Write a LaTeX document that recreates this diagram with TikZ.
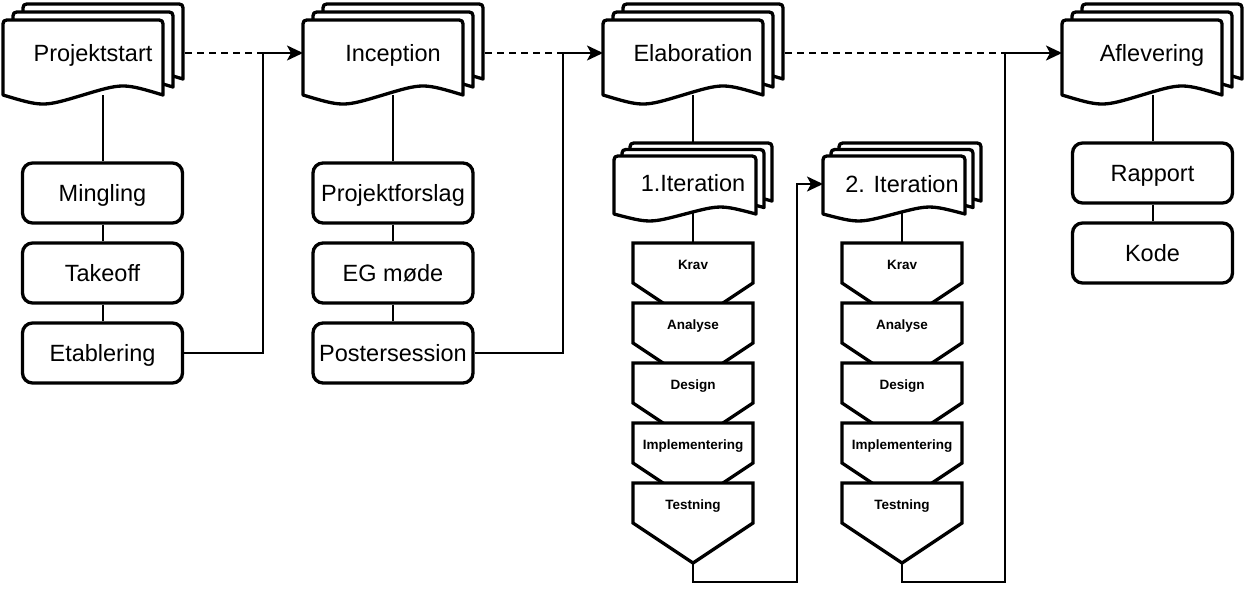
\documentclass[tikz,border=0pt]{standalone}
\usepackage{fontspec}
\setmainfont{Liberation Sans}
\usetikzlibrary{arrows.meta,calc}
\pgfdeclarelayer{bg}
\pgfsetlayers{bg,main}

\tikzset{
  docfill/.style={draw=black, fill=white, line width=3.3pt, line join=round},
  doctext/.style={font=\fontsize{23.5}{28}\selectfont, inner sep=0pt,
    text height=16.8pt, text depth=0pt},
  rbox/.style={draw, fill=white, line width=3.3pt, rounded corners=10pt,
    minimum width=160pt, minimum height=60pt, inner sep=0pt,
    text height=16.8pt, text depth=0pt,
    font=\fontsize{23.5}{28}\selectfont},
  pentfill/.style={draw, fill=white, line width=3.3pt, line join=miter},
  penttext/.style={minimum width=120pt, minimum height=44pt, inner sep=0pt,
    text height=9.7pt, text depth=0pt,
    font=\fontsize{13.5}{16}\selectfont\bfseries},
  conn/.style={line width=2pt},
  dconn/.style={line width=2pt, dash pattern=on 7pt off 5pt},
  arr/.style={-{Stealth[length=16pt,width=15pt,inset=4pt]}}
}

% one document sheet: left, top, width, height (to wave ends)
\newcommand\onedoc[4]{%
  \path[docfill] ({#1+#3},{#2+#4}) -- ({#1+#3},{#2+8})
    .. controls ({#1+#3},#2) .. ({#1+#3-8},#2) -- ({#1+8},#2)
    .. controls (#1,#2) .. (#1,{#2+8}) -- (#1,{#2+#4})
    .. controls ({#1+#3/4},{#2+#4+0.16*#4}) .. ({#1+#3/2},{#2+#4})
    .. controls ({#1+3*#3/4},{#2+#4-0.16*#4}) .. ({#1+#3},{#2+#4}) -- cycle;}

% multi-document: name, X, Y, w, h, dx, dy, text, text y (cap centre)
\newcommand\mdoc[9]{%
  \onedoc{#2+2*#6}{#3}{#4}{#5}
  \onedoc{#2+#6}{#3+#7}{#4}{#5}
  \onedoc{#2}{#3+2*#7}{#4}{#5}
  \node[doctext] (#1) at ({#2+#4/2+#6},#9) {#8};
  \coordinate (#1-w) at (#2,#9);
  \coordinate (#1-e) at ({#2+#4+2*#6+2},#9);
  \coordinate (#1-s) at ({#2+#4/2+#6},{#3+2*#7+#5});
  \coordinate (#1-n) at ({#2+#4/2+#6},#3);}

% off-page connector: name, cx, top, text
\newcommand\penta[4]{%
  \path[pentfill] ({#2-60},#3) -- ({#2+60},#3) -- ({#2+60},{#3+40})
    -- (#2,{#3+80}) -- ({#2-60},{#3+40}) -- cycle;
  \node[penttext] (#1) at (#2,{#3+21.5}) {#4};
  \coordinate (#1-tip) at (#2,{#3+80});}

\begin{document}
\begin{tikzpicture}[x=1pt,y=-1pt]
\useasboundingbox (0,0) rectangle (1244,600);

% multi-documents
\mdoc{ps}{3}{4}{160}{75}{10}{8}{Projektstart}{53}
\mdoc{ip}{303}{4}{160}{75}{10}{8}{Inception}{53}
\mdoc{el}{603}{4}{160}{75}{10}{8}{Elaboration}{53}
\mdoc{af}{1062}{4}{160}{75}{10}{8}{Aflevering}{53}
\mdoc{ita}{614}{143}{142}{58}{8}{6.5}{1.Iteration}{183.5}
\mdoc{itb}{823}{143}{142}{58}{8}{6.5}{2. Iteration}{184}

% rounded boxes
\node[rbox] (ming) at (102.5,193) {Mingling};
\node[rbox] (take) at (102.5,273) {Takeoff};
\node[rbox] (etab) at (102.5,353) {Etablering};
\node[rbox] (pfor) at (393,193) {Projektforslag};
\node[rbox] (egm)  at (393,273) {EG møde};
\node[rbox] (post) at (393,353) {Postersession};
\node[rbox] (rap)  at (1152.5,173) {Rapport};
\node[rbox] (kode) at (1152.5,253) {Kode};

% phases
\penta{kra}{693}{243}{Krav}
\penta{ana}{693}{303}{Analyse}
\penta{dea}{693}{363}{Design}
\penta{ima}{693}{423}{Implementering}
\penta{tea}{693}{483}{Testning}
\penta{krb}{902}{243}{Krav}
\penta{anb}{902}{303}{Analyse}
\penta{deb}{902}{363}{Design}
\penta{imb}{902}{423}{Implementering}
\penta{teb}{902}{483}{Testning}

% junction coordinates
\coordinate (ja) at (263,0);
\coordinate (jb) at (563,0);
\coordinate (jc) at (797,0);
\coordinate (jd) at (1005,0);
\coordinate (bot) at (0,582);

\begin{pgfonlayer}{bg}
  \draw[conn] (ps-s -| ming) -- (ming) -- (take) -- (etab);
  \draw[conn] (ip-s -| pfor) -- (pfor) -- (egm) -- (post);
  \draw[conn] (af-s -| rap) -- (rap) -- (kode);
  \draw[conn] (el-s) -- (ita-n) -- (kra);
  \draw[conn] (kra) -- (ana) -- (dea) -- (ima) -- (tea);
  \draw[conn] (itb-n) -- (krb);
  \draw[conn] (krb) -- (anb) -- (deb) -- (imb) -- (teb);

  \draw[dconn] (ps-e) -- (ps-e -| ja);
  \draw[dconn] (ip-e) -- (ip-e -| jb);
  \draw[dconn] (el-e) -- (el-e -| jd);

  \draw[conn,arr] (etab.east) -- (etab.east -| ja) -- (ja |- ip-w) -- (ip-w);
  \draw[conn,arr] (post.east) -- (post.east -| jb) -- (jb |- el-w) -- (el-w);
  \draw[conn,arr] (tea-tip) -- (tea-tip |- bot) -- (bot -| jc) -- (jc |- itb-w) -- (itb-w);
  \draw[conn,arr] (teb-tip) -- (teb-tip |- bot) -- (bot -| jd) -- (jd |- af-w) -- (af-w);
\end{pgfonlayer}
\end{tikzpicture}
\end{document}
